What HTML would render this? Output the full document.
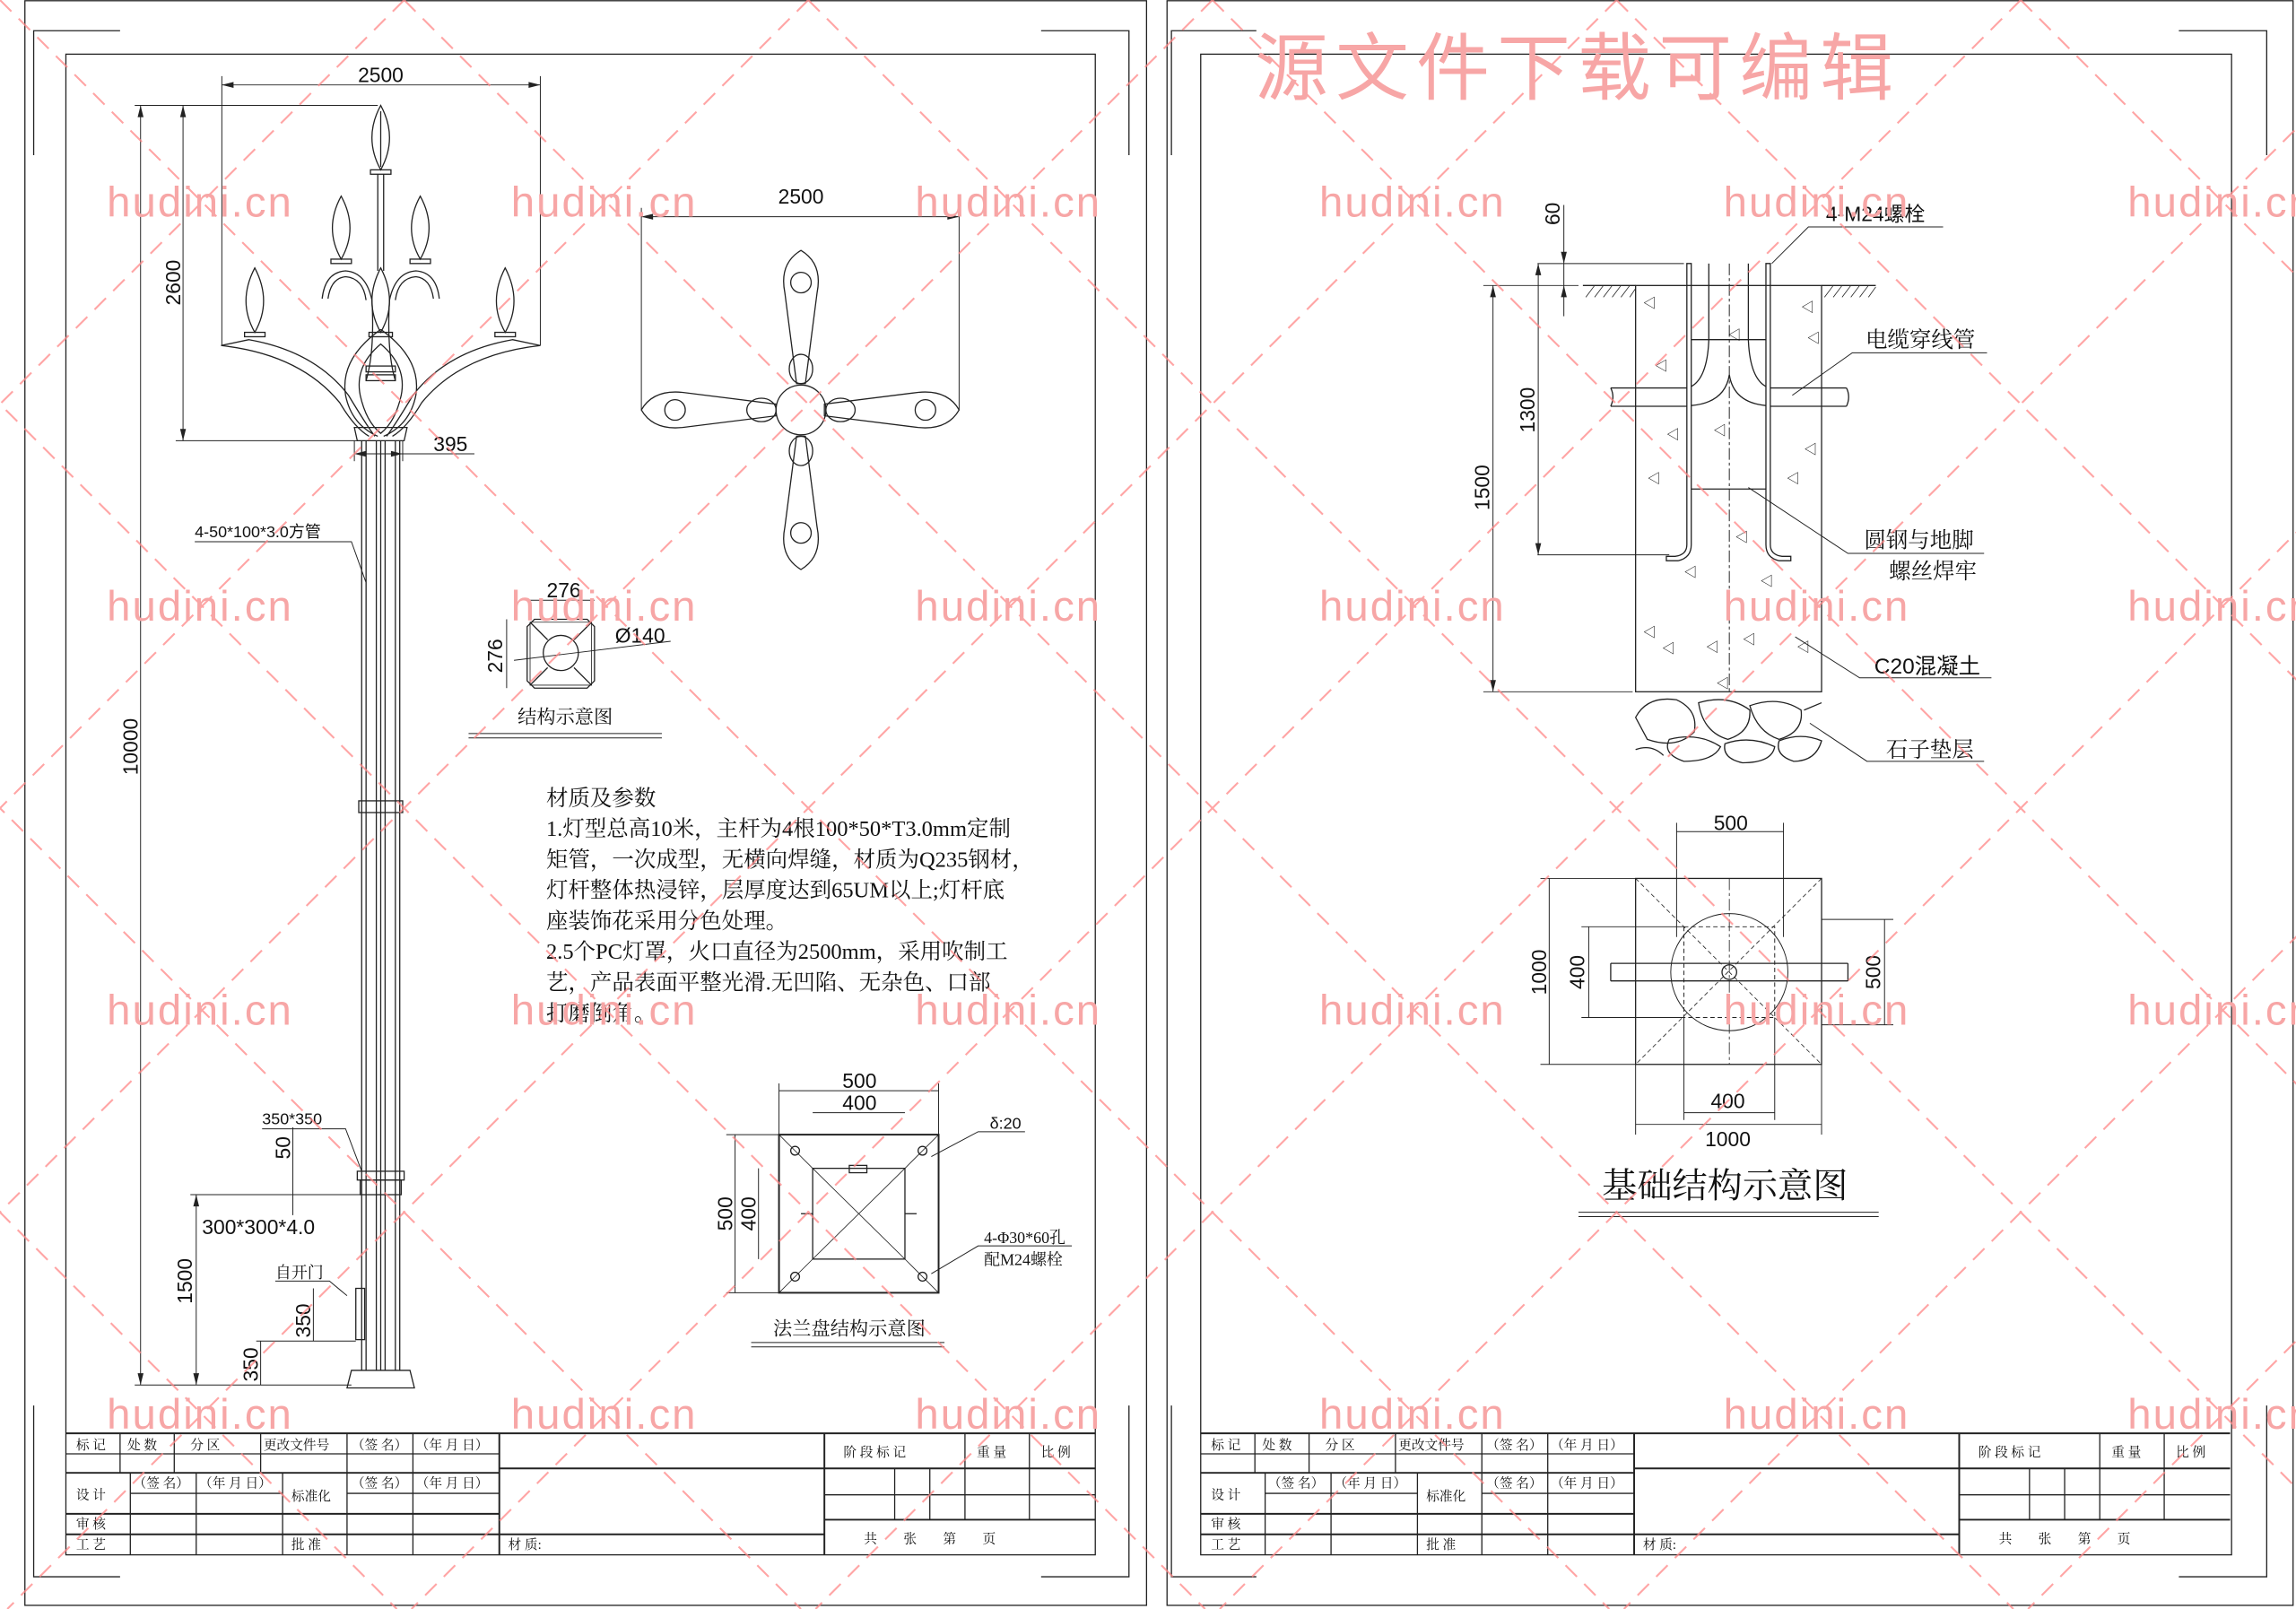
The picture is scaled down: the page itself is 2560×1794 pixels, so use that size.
<!DOCTYPE html>
<html><head><meta charset="utf-8">
<style>
html,body{margin:0;padding:0;background:#fff;}
svg{display:block;}
text{font-family:"Liberation Sans","Noto Sans CJK SC",sans-serif;fill:#111;}
.c{font-family:"Liberation Serif","Noto Serif CJK SC","Noto Sans CJK SC",serif;}
.wm{font-family:"Liberation Sans",sans-serif;fill:#f7a6a6;font-size:29px;}
</style></head>
<body>
<svg width="2560" height="1794" viewBox="0 0 1568 1099" preserveAspectRatio="none" xmlns="http://www.w3.org/2000/svg">
<rect width="1568" height="1099" fill="#fff"/>
<g fill="none" stroke="#222" stroke-width="0.8">
<!-- left sheet frames -->
<rect x="17" y="0.5" width="766" height="1096"/>
<rect x="45" y="37" width="703" height="1025"/>
<polyline points="23,106 23,21 82,21"/>
<polyline points="711,21 771,21 771,106"/>
<polyline points="23,960 23,1077 82,1077"/>
<polyline points="711,1077 771,1077 771,960"/>
<!-- right sheet frames -->
<rect x="797" y="0.5" width="769" height="1096"/>
<rect x="820" y="37" width="704" height="1025"/>
<polyline points="800,106 800,21 858,21"/>
<polyline points="1488,21 1548,21 1548,106"/>
<polyline points="800,960 800,1077 858,1077"/>
<polyline points="1488,1077 1548,1077 1548,960"/>
</g>

<!-- title blocks -->
<g id="tb" fill="none" stroke="#222" stroke-width="0.8">
<line x1="45" y1="979" x2="748" y2="979" stroke-width="1.2"/>
<line x1="45" y1="993" x2="341" y2="993"/>
<line x1="45" y1="1006" x2="341" y2="1006" stroke-width="1.2"/>
<line x1="89" y1="1020" x2="193" y2="1020"/>
<line x1="237" y1="1020" x2="341" y2="1020"/>
<line x1="45" y1="1034" x2="341" y2="1034" stroke-width="1.2"/>
<line x1="45" y1="1048" x2="563" y2="1048" stroke-width="1.2"/>
<line x1="341" y1="1003" x2="748" y2="1003" stroke-width="1.2"/>
<line x1="563" y1="1021" x2="748" y2="1021"/>
<line x1="563" y1="1038" x2="748" y2="1038" stroke-width="1.2"/>
<line x1="82" y1="979" x2="82" y2="1006"/>
<line x1="119" y1="979" x2="119" y2="1006"/>
<line x1="178" y1="979" x2="178" y2="1006"/>
<line x1="237" y1="979" x2="237" y2="1062"/>
<line x1="282" y1="979" x2="282" y2="1062"/>
<line x1="341" y1="979" x2="341" y2="1062" stroke-width="1.2"/>
<line x1="89" y1="1006" x2="89" y2="1062"/>
<line x1="134" y1="1006" x2="134" y2="1062"/>
<line x1="193" y1="1006" x2="193" y2="1062"/>
<line x1="563" y1="979" x2="563" y2="1062" stroke-width="1.2"/>
<line x1="611" y1="1003" x2="611" y2="1038"/>
<line x1="635" y1="1003" x2="635" y2="1038"/>
<line x1="659" y1="979" x2="659" y2="1038"/>
<line x1="703" y1="979" x2="703" y2="1038"/>
</g>
<g id="tbt" class="c" font-size="9">
<text x="52" y="990" class="c">标 记</text>
<text x="87" y="990" class="c">处 数</text>
<text x="130" y="990" class="c">分 区</text>
<text x="180" y="990" class="c">更改文件号</text>
<text x="240" y="990" class="c">（签 名）</text>
<text x="284" y="990" class="c">（年 月 日）</text>
<text x="52" y="1024" class="c">设 计</text>
<text x="91" y="1016" class="c">（签 名）</text>
<text x="136" y="1016" class="c">（年 月 日）</text>
<text x="199" y="1025" class="c">标准化</text>
<text x="240" y="1016" class="c">（签 名）</text>
<text x="284" y="1016" class="c">（年 月 日）</text>
<text x="52" y="1044" class="c">审 核</text>
<text x="52" y="1058" class="c">工 艺</text>
<text x="199" y="1058" class="c">批 准</text>
<text x="347" y="1058" class="c">材 质:</text>
<text x="576" y="995" class="c">阶 段 标 记</text>
<text x="667" y="995" class="c">重 量</text>
<text x="711" y="995" class="c">比 例</text>
<text x="590" y="1054" class="c">共　　张　　第　　页</text>
</g>
<use href="#tb" x="775"/>
<use href="#tbt" x="775"/>

<!-- ================= LEFT: lamp elevation ================= -->
<g fill="none" stroke="#222" stroke-width="0.8">
<!-- leaves -->
<path d="M260,72 Q272,94 260,116 Q248,94 260,72Z"/>
<path d="M260,76 L260,114"/>
<rect x="253" y="116" width="14" height="3"/>
<line x1="258" y1="119" x2="258" y2="185"/><line x1="262" y1="119" x2="262" y2="185"/>
<path d="M233,134 Q245,156 233,177 Q221,156 233,134Z"/><rect x="226" y="177" width="14" height="3"/>
<path d="M287,134 Q299,156 287,177 Q275,156 287,134Z"/><rect x="280" y="177" width="14" height="3"/>
<path d="M174,183 Q186,206 174,227 Q162,206 174,183Z"/><rect x="167" y="227" width="14" height="3"/>
<path d="M345,183 Q357,206 345,227 Q333,206 345,183Z"/><rect x="338" y="227" width="14" height="3"/>
<path d="M260,183 Q272,206 260,227 Q248,206 260,183Z"/><rect x="252" y="227" width="16" height="3"/>
<!-- curls -->
<path d="M220,204 Q222,186 236,185 Q250,186 254,205 Q256,240 250,260"/>
<path d="M224,204 Q226,190 236,189 Q248,190 250,205"/>
<path d="M300,204 Q298,186 284,185 Q270,186 266,205 Q264,240 270,260"/>
<path d="M296,204 Q294,190 284,189 Q272,190 270,205"/>
<!-- arms -->
<path d="M151,236 L170,232 Q215,240 238,270 Q250,290 256,298"/>
<path d="M151,236 Q205,242 232,275 Q242,292 252,298"/>
<path d="M369,236 L350,232 Q305,240 282,270 Q270,290 264,298"/>
<path d="M369,236 Q315,242 288,275 Q278,292 268,298"/>
<!-- bulb -->
<path d="M260,225 Q232,245 236,270 Q240,290 258,298"/>
<path d="M260,225 Q288,245 284,270 Q280,290 262,298"/>
<path d="M260,235 Q242,250 246,270 Q250,288 260,296 Q270,288 274,270 Q278,250 260,235Z"/>
<rect x="250" y="250" width="20" height="4"/><rect x="250" y="256" width="20" height="4"/>
<!-- pole head -->
<path d="M242,292 L278,292 L276,301 L244,301 Z"/>
<!-- shaft -->
<line x1="247" y1="301" x2="247" y2="936"/>
<line x1="250" y1="301" x2="250" y2="936"/>
<line x1="257" y1="301" x2="257" y2="936"/>
<line x1="260" y1="301" x2="260" y2="936"/>
<line x1="263" y1="301" x2="263" y2="936"/>
<line x1="270" y1="301" x2="270" y2="936"/>
<line x1="273" y1="301" x2="273" y2="936"/>
<rect x="245" y="547" width="30" height="8"/>
<rect x="244" y="800" width="32" height="6"/>
<rect x="246" y="806" width="28" height="10"/>
<rect x="243" y="880" width="6" height="35"/>
<path d="M240,936 L280,936 L283,948 L237,948 Z"/>
<!-- dims -->
<line x1="151.5" y1="52" x2="151.5" y2="236" stroke-width="0.6"/>
<line x1="369" y1="52" x2="369" y2="236" stroke-width="0.6"/>
<line x1="151.5" y1="58" x2="369" y2="58" stroke-width="0.6"/>
<line x1="92" y1="72" x2="258" y2="72" stroke-width="0.6"/>
<line x1="120" y1="301" x2="245" y2="301" stroke-width="0.6"/>
<line x1="125" y1="72" x2="125" y2="301" stroke-width="0.6"/>
<line x1="96" y1="72" x2="96" y2="946" stroke-width="0.6"/>
<line x1="92" y1="946" x2="240" y2="946" stroke-width="0.6"/>
<line x1="242" y1="301" x2="242" y2="315" stroke-width="0.6"/>
<line x1="275" y1="301" x2="275" y2="315" stroke-width="0.6"/>
<line x1="242" y1="310" x2="324" y2="310" stroke-width="0.6"/>
<polyline points="133,370 240,370 250,398" stroke-width="0.6"/>
<line x1="130" y1="816" x2="250" y2="816" stroke-width="0.6"/>
<line x1="134" y1="816" x2="134" y2="946" stroke-width="0.6"/>
<polyline points="179,771 236,771 247,800" stroke-width="0.6"/>
<line x1="200" y1="770" x2="200" y2="830" stroke-width="0.6"/>
<polyline points="188,875 225,875 237,885" stroke-width="0.6"/>
<line x1="214" y1="880" x2="214" y2="916" stroke-width="0.6"/>
<line x1="178" y1="916" x2="178" y2="946" stroke-width="0.6"/>
<line x1="175" y1="916" x2="243" y2="916" stroke-width="0.6"/>
</g>
<g fill="#222">
<path d="M151.5,58 l8,-2 v4z"/><path d="M369,58 l-8,-2 v4z"/>
<path d="M125,72 l-2,8 h4z"/><path d="M125,301 l-2,-8 h4z"/>
<path d="M96,72 l-2,8 h4z"/><path d="M96,946 l-2,-8 h4z"/>
<path d="M134,816 l-2,8 h4z"/><path d="M134,946 l-2,-8 h4z"/>
<path d="M242,310 l8,-2 v4z"/><path d="M275,310 l-8,-2 v4z"/>
</g>
<g font-size="14">
<text x="260" y="56" text-anchor="middle">2500</text>
<text x="296" y="308">395</text>
<text transform="translate(123,193) rotate(-90)" text-anchor="middle">2600</text>
<text transform="translate(94,510) rotate(-90)" text-anchor="middle">10000</text>
<text x="138" y="843">300*300*4.0</text>
<text transform="translate(131,875) rotate(-90)" text-anchor="middle">1500</text>
<text transform="translate(198,784) rotate(-90)" text-anchor="middle">50</text>
<text transform="translate(212,902) rotate(-90)" text-anchor="middle">350</text>
<text transform="translate(176,932) rotate(-90)" text-anchor="middle">350</text>
</g>
<text x="133" y="367" font-size="11">4-50*100*3.0方管</text>
<text x="179" y="768" font-size="11">350*350</text>
<text x="188" y="873" font-size="11" class="c">自开门</text>

<!-- top view flower -->
<g fill="none" stroke="#222" stroke-width="0.8">
<line x1="438" y1="142" x2="438" y2="280" stroke-width="0.6"/>
<line x1="655" y1="142" x2="655" y2="280" stroke-width="0.6"/>
<line x1="438" y1="148" x2="655" y2="148" stroke-width="0.6"/>
<path d="M547,171 Q562,180 558,200 L550,262 L544,262 L536,200 Q532,180 547,171Z"/>
<circle cx="547" cy="193" r="7"/>
<path d="M547,389 Q562,380 558,360 L550,298 L544,298 L536,360 Q532,380 547,389Z"/>
<circle cx="547" cy="364" r="7"/>
<path d="M438,280 Q446,266 466,268 L530,276 L530,284 L466,292 Q446,294 438,280Z"/>
<circle cx="461" cy="280" r="7"/>
<path d="M655,280 Q647,266 627,268 L563,276 L563,284 L627,292 Q647,294 655,280Z"/>
<circle cx="632" cy="280" r="7"/>
<circle cx="547" cy="280" r="17"/>
<ellipse cx="547" cy="252" rx="8" ry="10"/>
<ellipse cx="547" cy="308" rx="8" ry="10"/>
<ellipse cx="520" cy="280" rx="10" ry="8"/>
<ellipse cx="574" cy="280" rx="10" ry="8"/>
</g>
<g fill="#222"><path d="M438,148 l8,-2 v4z"/><path d="M655,148 l-8,-2 v4z"/></g>
<text x="547" y="139" font-size="14" text-anchor="middle">2500</text>

<!-- structure diagram -->
<g fill="none" stroke="#222" stroke-width="0.8">
<path d="M365,423 L401,423 L406,428 L406,465 L401,470 L365,470 L360,465 L360,428Z"/>
<path d="M362,425 L404,425 L404,468 L362,468Z" stroke-width="0.5"/>
<circle cx="383" cy="446" r="12"/>
<line x1="362" y1="425" x2="374" y2="437"/><line x1="404" y1="425" x2="392" y2="437"/>
<line x1="362" y1="468" x2="374" y2="456"/><line x1="404" y1="468" x2="392" y2="456"/>
<line x1="360" y1="410" x2="406" y2="410" stroke-width="0.6"/>
<line x1="346" y1="423" x2="346" y2="470" stroke-width="0.6"/>
<line x1="351" y1="451" x2="458" y2="438" stroke-width="0.6"/>
<line x1="320" y1="501" x2="452" y2="501" stroke-width="0.6"/>
<line x1="320" y1="504" x2="452" y2="504" stroke-width="0.6"/>
</g>
<text x="385" y="408" font-size="14" text-anchor="middle">276</text>
<text transform="translate(343,448) rotate(-90)" font-size="14" text-anchor="middle">276</text>
<text x="420" y="439" font-size="14">Ø140</text>
<text x="386" y="494" font-size="13" class="c" text-anchor="middle">结构示意图</text>

<!-- notes -->
<g font-size="15" class="c">
<text x="373" y="550" class="c">材质及参数</text>
<text x="373" y="571" class="c">1.灯型总高10米，主杆为4根100*50*T3.0mm定制</text>
<text x="373" y="592" class="c">矩管，一次成型，无横向焊缝，材质为Q235钢材，</text>
<text x="373" y="613" class="c">灯杆整体热浸锌，层厚度达到65UM以上;灯杆底</text>
<text x="373" y="634" class="c">座装饰花采用分色处理。</text>
<text x="373" y="655" class="c">2.5个PC灯罩，火口直径为2500mm，采用吹制工</text>
<text x="373" y="676" class="c">艺，产品表面平整光滑.无凹陷、无杂色、口部</text>
<text x="373" y="697" class="c">打磨倒角。</text>
</g>

<!-- flange -->
<g fill="none" stroke="#222" stroke-width="0.8">
<rect x="532" y="775" width="109" height="108" stroke-width="1.2"/>
<rect x="555" y="798" width="63" height="62"/>
<line x1="555" y1="798" x2="618" y2="860" stroke-width="0.5"/>
<line x1="618" y1="798" x2="555" y2="860" stroke-width="0.5"/>
<line x1="532" y1="775" x2="555" y2="798" stroke-width="0.5"/>
<line x1="641" y1="775" x2="618" y2="798" stroke-width="0.5"/>
<line x1="532" y1="883" x2="555" y2="860" stroke-width="0.5"/>
<line x1="641" y1="883" x2="618" y2="860" stroke-width="0.5"/>
<circle cx="543" cy="786" r="3"/><circle cx="630" cy="786" r="3"/>
<circle cx="543" cy="872" r="3"/><circle cx="630" cy="872" r="3"/>
<rect x="580" y="796" width="12" height="5"/>
<line x1="547" y1="829" x2="555" y2="829"/><line x1="618" y1="829" x2="626" y2="829"/>
<line x1="532" y1="740" x2="532" y2="775" stroke-width="0.6"/>
<line x1="641" y1="740" x2="641" y2="775" stroke-width="0.6"/>
<line x1="532" y1="745" x2="641" y2="745" stroke-width="0.6"/>
<line x1="555" y1="760" x2="618" y2="760" stroke-width="0.6"/>
<line x1="496" y1="775" x2="532" y2="775" stroke-width="0.6"/>
<line x1="496" y1="883" x2="532" y2="883" stroke-width="0.6"/>
<line x1="502" y1="775" x2="502" y2="883" stroke-width="0.6"/>
<line x1="518" y1="798" x2="518" y2="860" stroke-width="0.6"/>
<polyline points="636,790 668,773 700,773" stroke-width="0.6"/>
<polyline points="636,870 668,851 732,851" stroke-width="0.6"/>
<line x1="513" y1="917" x2="645" y2="917" stroke-width="0.6"/>
<line x1="513" y1="920" x2="645" y2="920" stroke-width="0.6"/>
</g>
<text x="587" y="743" font-size="14" text-anchor="middle">500</text>
<text x="587" y="758" font-size="14" text-anchor="middle">400</text>
<text transform="translate(500,829) rotate(-90)" font-size="14" text-anchor="middle">500</text>
<text transform="translate(516,829) rotate(-90)" font-size="14" text-anchor="middle">400</text>
<text x="676" y="771" font-size="11">δ:20</text>
<text x="672" y="849" font-size="11" class="c">4-Φ30*60孔</text>
<text x="672" y="864" font-size="11" class="c">配M24螺栓</text>
<text x="580" y="912" font-size="13" class="c" text-anchor="middle">法兰盘结构示意图</text>

<!-- ================= RIGHT: foundation ================= -->
<g fill="none" stroke="#222" stroke-width="0.8">
<line x1="1013" y1="195" x2="1078" y2="195" stroke-width="0.6"/>
<line x1="1081" y1="195" x2="1117" y2="195"/>
<line x1="1244" y1="195" x2="1281" y2="195"/>
<path d="M1083,203 l6,-8 M1089,203 l6,-8 M1095,203 l6,-8 M1101,203 l6,-8 M1107,203 l6,-8 M1113,203 l4,-6 M1246,203 l6,-8 M1252,203 l6,-8 M1258,203 l6,-8 M1264,203 l6,-8 M1270,203 l6,-8 M1276,203 l5,-7" stroke-width="0.5"/>
<rect x="1117" y="195" width="127" height="277.5"/>
<line x1="1050" y1="180" x2="1150" y2="180" stroke-width="0.6"/>
<line x1="1050" y1="379" x2="1140" y2="379" stroke-width="0.6"/>
<line x1="1013" y1="472.5" x2="1115" y2="472.5" stroke-width="0.6"/>
<line x1="1068" y1="140" x2="1068" y2="216" stroke-width="0.6"/>
<line x1="1050.5" y1="180" x2="1050.5" y2="379" stroke-width="0.6"/>
<line x1="1019.6" y1="195" x2="1019.6" y2="472.5" stroke-width="0.6"/>
<!-- bolts -->
<path d="M1152,180 L1152,372 Q1152,379 1144,380 L1138,380 L1138,383 L1146,383 Q1155,381 1155,372 L1155,180Z"/>
<path d="M1206,180 L1206,372 Q1206,381 1215,383 L1223,383 L1223,380 L1217,380 Q1209,379 1209,372 L1209,180Z"/>
<!-- pipe -->
<line x1="1167" y1="180" x2="1167" y2="232"/>
<line x1="1194" y1="180" x2="1194" y2="232"/>
<line x1="1181" y1="180" x2="1181" y2="472" stroke-dasharray="8,2,2,2" stroke-width="0.6"/>
<path d="M1167,232 Q1166,258 1155,264"/>
<path d="M1194,232 Q1195,258 1206,264"/>
<path d="M1181,256 Q1178,275 1155,277"/>
<path d="M1181,256 Q1184,275 1206,277"/>
<line x1="1155" y1="232" x2="1206" y2="232"/>
<line x1="1155" y1="334" x2="1206" y2="334"/>
<path d="M1100,265 L1152,265 M1100,277.5 L1152,277.5 M1209,265 L1261,265 M1209,277.5 L1261,277.5"/>
<path d="M1100,265 q3,6 0,12.5 M1261,265 q3,6 0,12.5"/>
<!-- stones -->
<path d="M1117,490 Q1125,475 1145,478 Q1160,485 1157,500 Q1145,512 1125,505 Z"/>
<path d="M1160,480 Q1180,474 1195,485 Q1196,500 1180,505 Q1163,500 1160,480Z"/>
<path d="M1195,482 Q1215,475 1230,485 Q1232,500 1215,505 Q1200,500 1195,482Z"/>
<path d="M1140,505 Q1160,500 1175,510 Q1170,520 1150,520 Q1135,515 1140,505Z"/>
<path d="M1178,508 Q1195,502 1212,510 Q1210,521 1190,521 Q1176,518 1178,508Z"/>
<path d="M1215,506 Q1230,500 1244,506 Q1240,520 1225,520 Q1212,516 1215,506Z"/>
<path d="M1117,512 Q1128,508 1136,516 M1232,485 L1244,480"/>
<!-- leaders -->
<polyline points="1210,180 1235,155 1327,155" stroke-width="0.6"/>
<polyline points="1224,270 1265,241 1357,241" stroke-width="0.6"/>
<polyline points="1194,333 1262,378 1355,378" stroke-width="0.6"/>
<polyline points="1226,435 1270,463 1360,463" stroke-width="0.6"/>
<polyline points="1236,494 1275,520 1355,520" stroke-width="0.6"/>
</g>
<g fill="#222">
<path d="M1068,180 l-2,-8 h4z"/><path d="M1068,195 l-2,8 h4z"/>
<path d="M1050.5,180 l-2,8 h4z"/><path d="M1050.5,379 l-2,-8 h4z"/>
<path d="M1019.6,195 l-2,8 h4z"/><path d="M1019.6,472.5 l-2,-8 h4z"/>
</g>
<g font-size="9" fill="#444">
<text x="1122" y="210">◁</text><text x="1230" y="213">◁</text><text x="1130" y="253">◁</text><text x="1234" y="234">◁</text>
<text x="1138" y="300">◁</text><text x="1232" y="310">◁</text><text x="1125" y="330">◁</text><text x="1220" y="330">◁</text>
<text x="1170" y="297">◁</text><text x="1185" y="370">◁</text><text x="1150" y="394">◁</text><text x="1202" y="400">◁</text>
<text x="1122" y="435">◁</text><text x="1135" y="446">◁</text><text x="1165" y="445">◁</text><text x="1190" y="440">◁</text>
<text x="1227" y="445">◁</text><text x="1172" y="470">◁</text><text x="1180" y="232">◁</text>
</g>
<text transform="translate(1065,146) rotate(-90)" font-size="14" text-anchor="middle">60</text>
<text transform="translate(1048,280) rotate(-90)" font-size="14" text-anchor="middle">1300</text>
<text transform="translate(1017,333) rotate(-90)" font-size="14" text-anchor="middle">1500</text>
<text x="1247" y="151" font-size="14">4-M24螺栓</text>
<text x="1274" y="237" font-size="15" class="c">电缆穿线管</text>
<text x="1273" y="374" font-size="15" class="c">圆钢与地脚</text>
<text x="1290" y="395" font-size="15" class="c">螺丝焊牢</text>
<text x="1280" y="460" font-size="15">C20混凝土</text>
<text x="1288" y="517" font-size="15" class="c">石子垫层</text>

<!-- plan -->
<g fill="none" stroke="#222" stroke-width="0.8">
<rect x="1117" y="600" width="127" height="127"/>
<rect x="1150" y="633" width="62" height="62" stroke-dasharray="3,2" stroke-width="0.6"/>
<circle cx="1181" cy="664" r="40" stroke-width="0.6"/>
<circle cx="1181" cy="664" r="5"/>
<line x1="1117" y1="600" x2="1244" y2="727" stroke-dasharray="3,2" stroke-width="0.5"/>
<line x1="1244" y1="600" x2="1117" y2="727" stroke-dasharray="3,2" stroke-width="0.5"/>
<path d="M1100,658 L1262,658 M1100,670 L1262,670 M1100,658 L1100,670 M1262,658 L1262,670"/>
<line x1="1181" y1="600" x2="1181" y2="727" stroke-dasharray="8,2,2,2" stroke-width="0.5"/>
<line x1="1145" y1="562" x2="1145" y2="640" stroke-width="0.6"/>
<line x1="1218" y1="562" x2="1218" y2="640" stroke-width="0.6"/>
<line x1="1145" y1="568" x2="1218" y2="568" stroke-width="0.6"/>
<line x1="1117" y1="727" x2="1117" y2="775" stroke-width="0.6"/>
<line x1="1244" y1="727" x2="1244" y2="775" stroke-width="0.6"/>
<line x1="1117" y1="768" x2="1244" y2="768" stroke-width="0.6"/>
<line x1="1150" y1="695" x2="1150" y2="765" stroke-width="0.6"/>
<line x1="1212" y1="695" x2="1212" y2="765" stroke-width="0.6"/>
<line x1="1150" y1="760" x2="1212" y2="760" stroke-width="0.6"/>
<line x1="1052" y1="600" x2="1117" y2="600" stroke-width="0.6"/>
<line x1="1052" y1="727" x2="1117" y2="727" stroke-width="0.6"/>
<line x1="1058" y1="600" x2="1058" y2="727" stroke-width="0.6"/>
<line x1="1080" y1="633" x2="1150" y2="633" stroke-width="0.6"/>
<line x1="1080" y1="695" x2="1150" y2="695" stroke-width="0.6"/>
<line x1="1085" y1="633" x2="1085" y2="695" stroke-width="0.6"/>
<line x1="1244" y1="628" x2="1293" y2="628" stroke-width="0.6"/>
<line x1="1244" y1="700" x2="1293" y2="700" stroke-width="0.6"/>
<line x1="1287" y1="628" x2="1287" y2="700" stroke-width="0.6"/>
<line x1="1078" y1="828" x2="1283" y2="828" stroke-width="0.6"/>
<line x1="1078" y1="831" x2="1283" y2="831" stroke-width="0.6"/>
</g>
<g font-size="14" text-anchor="middle">
<text x="1182" y="567">500</text>
<text x="1180" y="757">400</text>
<text x="1180" y="783">1000</text>
<text transform="translate(1056,664) rotate(-90)">1000</text>
<text transform="translate(1082,664) rotate(-90)">400</text>
<text transform="translate(1284,664) rotate(-90)">500</text>
</g>
<text x="1178" y="818" font-size="24" class="c" text-anchor="middle">基础结构示意图</text>

<!-- ================= watermark ================= -->
<g stroke="#f88" stroke-width="1.3" stroke-dasharray="11,7" opacity="0.75" fill="none">
<line x1="-1104" y1="0" x2="-5" y2="1099"/>
<line x1="-828" y1="0" x2="271" y2="1099"/>
<line x1="-552" y1="0" x2="547" y2="1099"/>
<line x1="-276" y1="0" x2="823" y2="1099"/>
<line x1="0" y1="0" x2="1099" y2="1099"/>
<line x1="276" y1="0" x2="1375" y2="1099"/>
<line x1="552" y1="0" x2="1651" y2="1099"/>
<line x1="828" y1="0" x2="1927" y2="1099"/>
<line x1="1104" y1="0" x2="2203" y2="1099"/>
<line x1="1380" y1="0" x2="2479" y2="1099"/>
<line x1="276" y1="0" x2="-823" y2="1099"/>
<line x1="552" y1="0" x2="-547" y2="1099"/>
<line x1="828" y1="0" x2="-271" y2="1099"/>
<line x1="1104" y1="0" x2="5" y2="1099"/>
<line x1="1380" y1="0" x2="281" y2="1099"/>
<line x1="1656" y1="0" x2="557" y2="1099"/>
<line x1="1932" y1="0" x2="833" y2="1099"/>
<line x1="2208" y1="0" x2="1109" y2="1099"/>
<line x1="2484" y1="0" x2="1385" y2="1099"/>
</g>
<g class="wm">
<text class="wm" x="73" y="148" textLength="126">hudini.cn</text><text class="wm" x="349" y="148" textLength="126">hudini.cn</text><text class="wm" x="625" y="148" textLength="126">hudini.cn</text><text class="wm" x="901" y="148" textLength="126">hudini.cn</text><text class="wm" x="1177" y="148" textLength="126">hudini.cn</text><text class="wm" x="1453" y="148" textLength="126">hudini.cn</text>
<text class="wm" x="73" y="424" textLength="126">hudini.cn</text><text class="wm" x="349" y="424" textLength="126">hudini.cn</text><text class="wm" x="625" y="424" textLength="126">hudini.cn</text><text class="wm" x="901" y="424" textLength="126">hudini.cn</text><text class="wm" x="1177" y="424" textLength="126">hudini.cn</text><text class="wm" x="1453" y="424" textLength="126">hudini.cn</text>
<text class="wm" x="73" y="700" textLength="126">hudini.cn</text><text class="wm" x="349" y="700" textLength="126">hudini.cn</text><text class="wm" x="625" y="700" textLength="126">hudini.cn</text><text class="wm" x="901" y="700" textLength="126">hudini.cn</text><text class="wm" x="1177" y="700" textLength="126">hudini.cn</text><text class="wm" x="1453" y="700" textLength="126">hudini.cn</text>
<text class="wm" x="73" y="976" textLength="126">hudini.cn</text><text class="wm" x="349" y="976" textLength="126">hudini.cn</text><text class="wm" x="625" y="976" textLength="126">hudini.cn</text><text class="wm" x="901" y="976" textLength="126">hudini.cn</text><text class="wm" x="1177" y="976" textLength="126">hudini.cn</text><text class="wm" x="1453" y="976" textLength="126">hudini.cn</text>
</g>
<text x="1075" y="64" font-size="50" text-anchor="middle" style="fill:#f7a6a6;font-family:'Noto Sans CJK SC',sans-serif;" textLength="436">源文件下载可编辑</text>
</svg>
</body></html>
